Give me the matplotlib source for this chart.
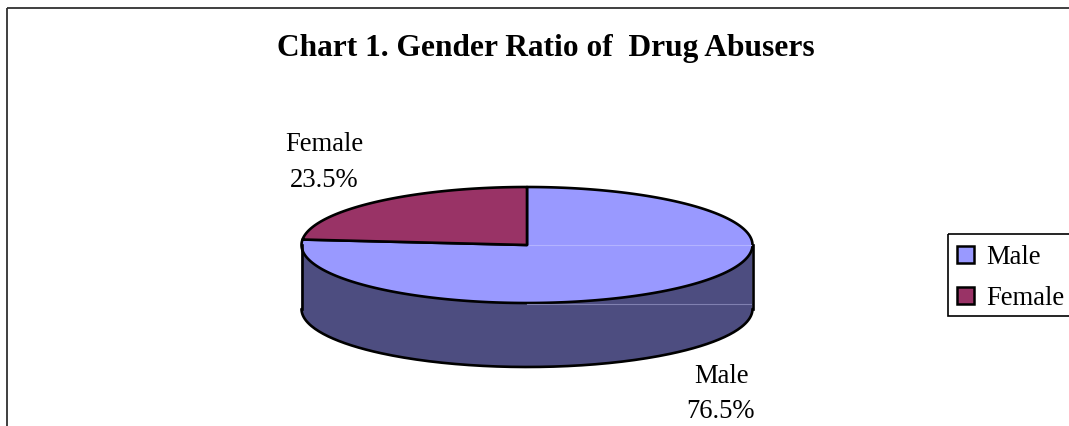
import numpy as np
import matplotlib.pyplot as plt
from matplotlib.patches import Polygon, Rectangle

categories = ['Male', 'Female']
shares = [76.5, 23.5]
top_colors = ['#9999FF', '#993366']
side_colors = ['#4D4D80', '#4D1A33']
title = 'Chart 1. Gender Ratio of  Drug Abusers'

plt.rcParams['font.family'] = ['Liberation Serif', 'DejaVu Serif']

fig = plt.figure(figsize=(10.69, 4.27), dpi=100)
ax = fig.add_axes([0, 0, 1, 1])
ax.set_xlim(0, 1069)
ax.set_ylim(427, 0)
ax.axis('off')

# chart frame (runs off the right and bottom edge)
ax.add_patch(Rectangle((7, 9), 1100, 460, fill=False, ec='#303030', lw=1.3))

ax.text(546, 56, title, ha='center', va='baseline', fontsize=22.6, fontweight='bold')

# 3d pie geometry in pixels
cx, cy, rx, ry, depth = 527, 246, 225.5, 58, 64
olw = 1.9


def pt(t, dy=0):
    t = np.radians(t)
    return cx + rx * np.cos(t), cy - ry * np.sin(t) + dy


total = sum(shares)
start = 90.0
wedges = []
for name, v in zip(categories, shares):
    end = start - 360 * v / total
    wedges.append((start, end))
    start = end

# side walls (front half only)
for (t1, t2), col in zip(wedges, side_colors):
    for k in range(-2, 2):
        a, b = 180 + 360 * k, 360 + 360 * k
        lo, hi = max(t2, a), min(t1, b)
        if hi <= lo:
            continue
        ts = np.linspace(lo, hi, 200)
        top = np.array([pt(t) for t in ts])
        bot = np.array([pt(t, depth) for t in ts[::-1]])
        ax.add_patch(Polygon(np.vstack([top, bot]), closed=True, fc=col, ec='none'))
        ax.plot(bot[:, 0], bot[:, 1], color='black', lw=olw, solid_capstyle='round')

# faint seam lines seen in the original render
ax.plot([cx, cx + rx], [cy + ry + 1, cy + ry + 1], color='#8080B0', lw=0.8)
ax.plot([cx + rx, cx + rx], [cy, cy + depth], color='black', lw=olw)
ax.plot([cx - rx, cx - rx], [cy, cy + depth], color='black', lw=olw)

# top faces
for (t1, t2), col in zip(wedges, top_colors):
    ts = np.linspace(t1, t2, 300)
    arc = np.array([pt(t) for t in ts])
    poly = np.vstack([[cx, cy], arc])
    ax.add_patch(Polygon(poly, closed=True, fc=col, ec='black', lw=olw, joinstyle='round'))
ax.plot([cx + 2, cx + rx - 2], [cy, cy], color='#B3B3FF', lw=0.8)

# data labels
lab_fs = 19.2
ax.text(324, 151, categories[1], ha='center', va='baseline', fontsize=lab_fs)
ax.text(324, 187, f'{shares[1]}%', ha='center', va='baseline', fontsize=lab_fs)
ax.text(721, 383, categories[0], ha='center', va='baseline', fontsize=lab_fs)
ax.text(720, 418, f'{shares[0]}%', ha='center', va='baseline', fontsize=lab_fs)

# legend
ax.add_patch(Rectangle((948, 235), 140, 82, fill=False, ec='black', lw=1.2))
for i, (name, col) in enumerate(zip(categories, top_colors)):
    y0 = 247 + i * 41
    ax.add_patch(Rectangle((957, y0), 17, 17, fc=col, ec='black', lw=1.8))
    ax.text(986, y0 + 17, name, ha='left', va='baseline', fontsize=lab_fs)

fig.savefig('out.png', dpi=100)
